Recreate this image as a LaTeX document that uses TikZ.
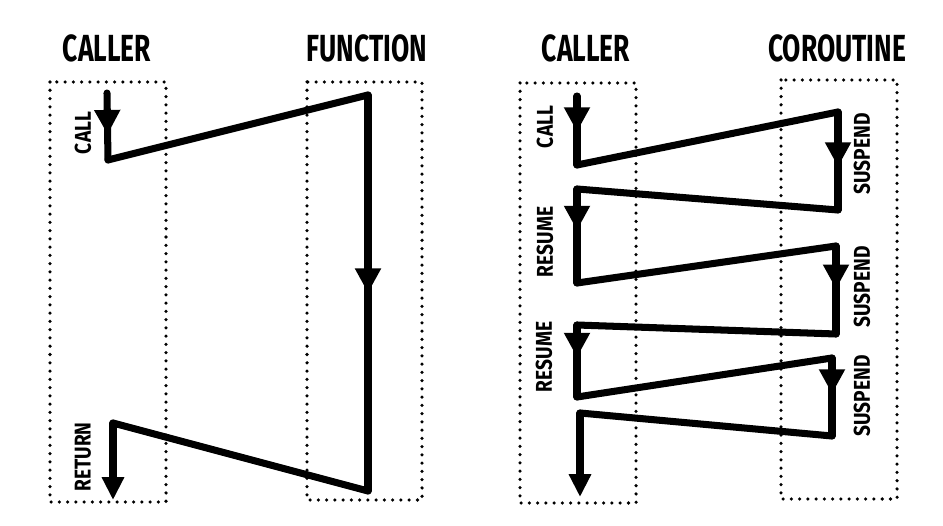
\documentclass[tikz,border=0pt]{standalone}
\usepackage{fontspec}
\setmainfont{Fira Sans}
\newfontfamily\titlefont[FakeStretch=0.7]{Fira Sans}
\newfontfamily\tagfont[FakeStretch=0.84]{Fira Sans}
\usetikzlibrary{arrows.meta,decorations.markings}

\begin{document}
\begin{tikzpicture}[x=0.02cm,y=-0.02cm,
	flow/.style={line width=4pt,line cap=round,line join=round},
	lane/.style={line width=2pt,line cap=round,dash pattern=on 0pt off 4.7pt},
	title/.style={font=\titlefont\bfseries\fontsize{21.5}{21.5}\selectfont},
	tag/.style={font=\tagfont\bfseries\fontsize{13}{13}\selectfont,rotate=90},
	midarrow/.style={postaction={decorate},decoration={markings,
		mark=at position #1 with {\arrow{Triangle[length=14pt,width=14pt]}}}},
	endarrow/.style={-{Triangle[length=13pt,width=12pt]}}]

			\useasboundingbox (0,0) rectangle (943,526);

			% titles
			\node [title](callerA) at (107,48) {CALLER};
			\node [title](func) at (367,48) {FUNCTION};
			\node [title](callerB) at (586,48) {CALLER};
			\node [title](corout) at (837,48) {COROUTINE};

			% lanes
			\draw [lane](50,82) rectangle (166,502);
			\draw [lane](307,82) rectangle (422,500);
			\draw [lane](520,83) rectangle (636,503);
			\draw [lane](781,80) rectangle (897,499);

			% plain call
			\coordinate (a0) at (107,93);
			\coordinate (a1) at (108,160);
			\coordinate (a2) at (368,95);
			\coordinate (a3) at (368,491);
			\coordinate (a4) at (113,423);
			\coordinate (a5) at (113,500);

			\draw [flow,midarrow=0.62](a0) -- (a1);
			\draw [flow](a1) -- (a2);
			\draw [flow,midarrow=0.5](a2) -- (a3);
			\draw [flow](a3) -- (a4);
			\draw [flow,endarrow](a4) -- (a5);

			\node [tag](callA) at (83,133) {CALL};
			\node [tag](ret) at (83,457) {RETURN};

			% coroutine
			\coordinate (b0) at (577,96);
			\coordinate (b1) at (577,165);
			\coordinate (b2) at (838,112);
			\coordinate (b3) at (838,210);
			\coordinate (b4) at (577,189);
			\coordinate (b5) at (577,283);
			\coordinate (b6) at (836,246);
			\coordinate (b7) at (836,334);
			\coordinate (b8) at (577,325);
			\coordinate (b9) at (577,397);
			\coordinate (b10) at (832,358);
			\coordinate (b11) at (832,436);
			\coordinate (b12) at (580,413);
			\coordinate (b13) at (580,497);

			\draw [flow,midarrow=0.52](b0) -- (b1);
			\draw [flow](b1) -- (b2);
			\draw [flow,midarrow=0.56](b2) -- (b3);
			\draw [flow](b3) -- (b4);
			\draw [flow,midarrow=0.44](b4) -- (b5);
			\draw [flow](b5) -- (b6);
			\draw [flow,midarrow=0.49](b6) -- (b7);
			\draw [flow](b7) -- (b8);
			\draw [flow,midarrow=0.45](b8) -- (b9);
			\draw [flow](b9) -- (b10);
			\draw [flow,midarrow=0.46](b10) -- (b11);
			\draw [flow](b11) -- (b12);
			\draw [flow,endarrow](b12) -- (b13);

			\node [tag](callB) at (545,127) {CALL};
			\node [tag](resA) at (545,242) {RESUME};
			\node [tag](resB) at (544,357) {RESUME};
			\node [tag](susA) at (862,154) {SUSPEND};
			\node [tag](susB) at (862,287) {SUSPEND};
			\node [tag](susC) at (862,396) {SUSPEND};

		\end{tikzpicture}
\end{document}
